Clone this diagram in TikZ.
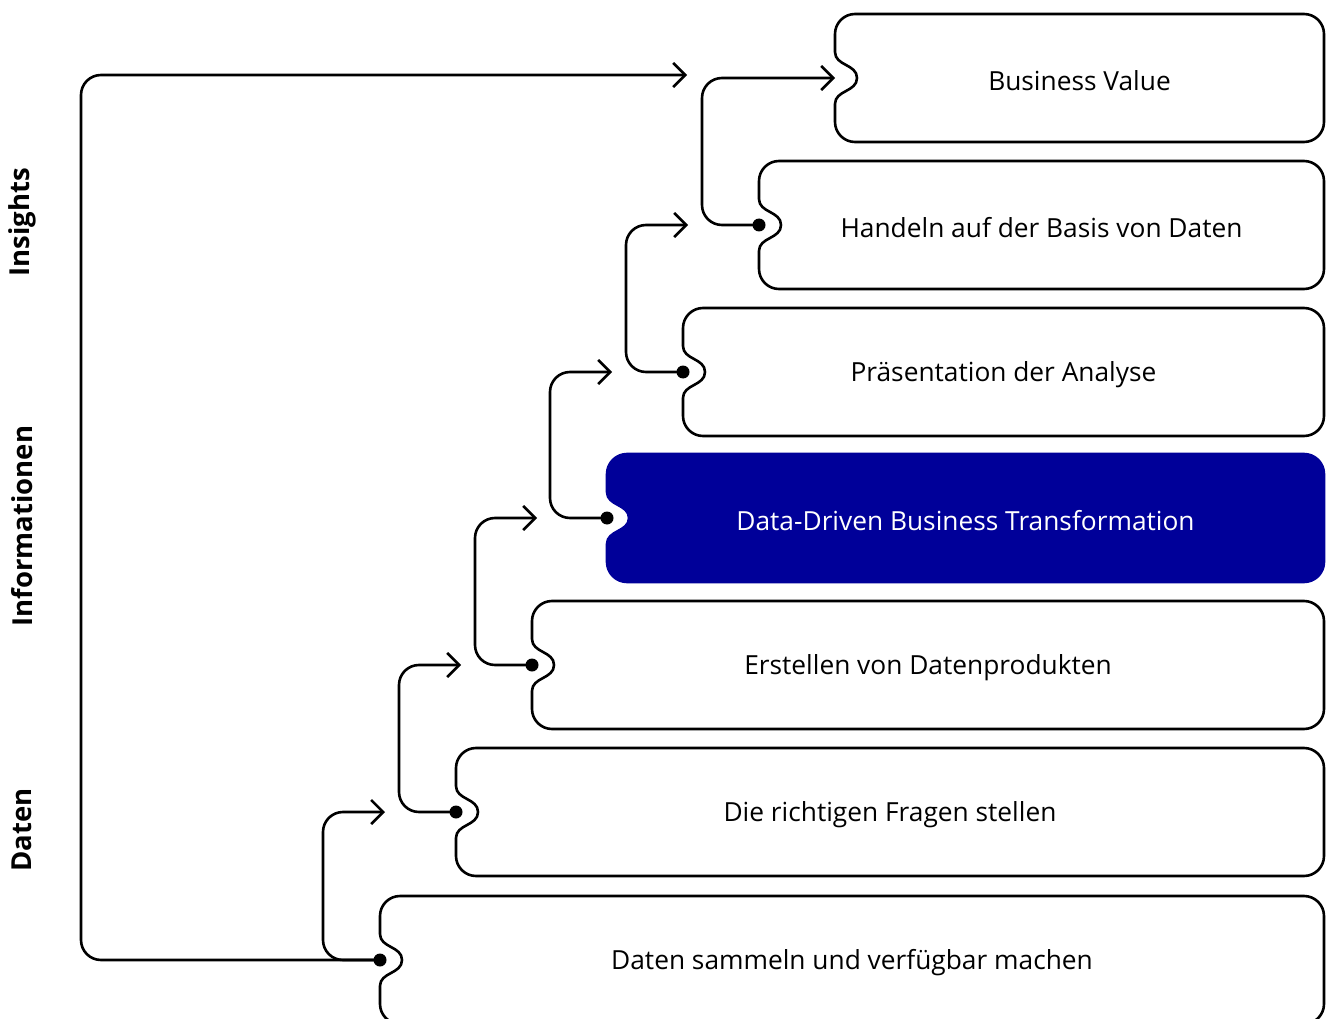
\documentclass[tikz,border=0pt]{standalone}
\usepackage{fontspec}
\setmainfont{Open Sans}
\usetikzlibrary{arrows.meta,calc}

\definecolor{deepblue}{HTML}{000099}

% notched card: [style] {left x} {top y} {name} {text}
\newcommand{\notchcard}[5][]{%
  \draw[card,#1] (#2+22,#3+64) .. controls (#2+22,#3+78) and (#2,#3+76) .. (#2,#3+90)
    -- (#2,#3+108) .. controls (#2,#3+119) and (#2+9,#3+128) .. (#2+20,#3+128)
    -- (1304,#3+128) .. controls (1315,#3+128) and (1324,#3+119) .. (1324,#3+108)
    -- (1324,#3+20) .. controls (1324,#3+9) and (1315,#3) .. (1304,#3)
    -- (#2+20,#3) .. controls (#2+9,#3) and (#2,#3+9) .. (#2,#3+20)
    -- (#2,#3+38) .. controls (#2,#3+52) and (#2+22,#3+50) .. cycle;
  \coordinate (#4) at (#2,#3+64);
  \node[cardtext,#1] (#4 text) at ({(#2+1324)/2},#3+66.5) {#5};
}

\begin{document}
\begin{tikzpicture}[x=1pt,y=-1pt,
    card/.style={draw,fill=white,line width=2.6pt},
    cardtext/.style={draw=none,fill=none,font=\fontsize{26.3}{30}\selectfont},
    bluecard/.style={draw=deepblue,fill=deepblue,text=white},
    link/.style={draw,line width=2.6pt,rounded corners=20pt,-{Straight Barb[length=12pt,width=24pt,line width=2.6pt]}},
    dot/.style={circle,fill,inner sep=0pt,minimum size=13pt},
    side/.style={rotate=90,font=\fontsize{27.5}{30}\selectfont\bfseries}]

  \useasboundingbox (0,0) rectangle (1326,1019);

  % the seven steps
  \notchcard{835}{14}{c1}{Business Value}
  \notchcard{759}{161}{c2}{Handeln auf der Basis von Daten}
  \notchcard{683}{308}{c3}{Präsentation der Analyse}
  \notchcard[bluecard]{607}{454}{c4}{Data-Driven Business Transformation}
  \notchcard{532}{601}{c5}{Erstellen von Datenprodukten}
  \notchcard{456}{748}{c6}{Die richtigen Fragen stellen}
  \notchcard{380}{896}{c7}{Daten sammeln und verfügbar machen}

  % side labels
  \node[side] (insights) at (22,222) {Insights};
  \node[side] (infos) at (22,526) {Informationen};
  \node[side] (daten) at (22,830) {Daten};

  % steps up
  \draw[link] (c7) -- ++(-57,0) |- ($(c7 |- c6)+(5,0)$);
  \draw[link] (c6) -- ++(-57,0) |- ($(c6 |- c5)+(5,0)$);
  \draw[link] (c5) -- ++(-57,0) |- ($(c5 |- c4)+(5,0)$);
  \draw[link] (c4) -- ++(-57,0) |- ($(c4 |- c3)+(5,0)$);
  \draw[link] (c3) -- ++(-57,0) |- ($(c3 |- c2)+(5,0)$);
  \draw[link] (c2) -- ++(-57,0) |- (c1);
  \coordinate (jump) at (687,75);
  \draw[link] (c7) -- ++(-299,0) |- (jump);

  \foreach \c in {c2,c3,c4,c5,c6,c7}
    \node[dot] at (\c) {};

\end{tikzpicture}
\end{document}
